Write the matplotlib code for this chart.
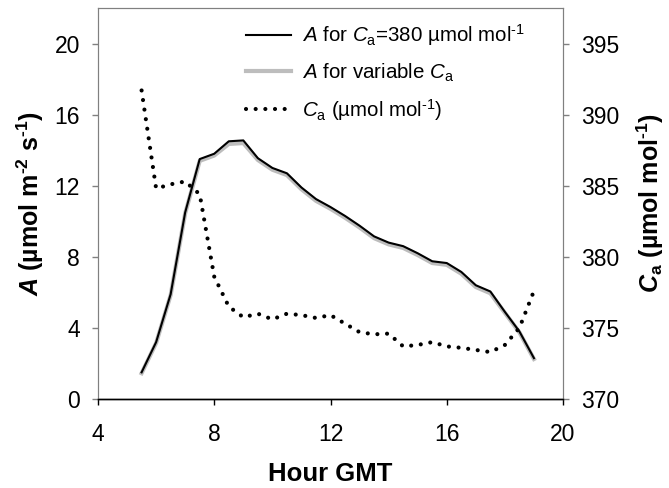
import matplotlib.pyplot as plt

plt.rcParams['font.family'] = ['Liberation Sans', 'DejaVu Sans']
plt.rcParams['mathtext.fontset'] = 'custom'
plt.rcParams['mathtext.rm'] = 'Liberation Sans'
plt.rcParams['mathtext.it'] = 'Liberation Sans:italic'
plt.rcParams['mathtext.bf'] = 'Liberation Sans:bold'
plt.rcParams['mathtext.bfit'] = 'Liberation Sans:bold:italic'

# hour of day (GMT)
hours = [5.5, 6.0, 6.5, 7.0, 7.5, 8.0, 8.5, 9.0, 9.5, 10.0, 10.5, 11.0, 11.5, 12.0,
         12.5, 13.0, 13.5, 14.0, 14.5, 15.0, 15.5, 16.0, 16.5, 17.0, 17.5, 18.0, 18.5, 19.0]

# assimilation at fixed Ca = 380
a_fixed = [1.5, 3.2, 5.9, 10.5, 13.5, 13.8, 14.5, 14.55, 13.55, 13.0, 12.7, 11.9, 11.25, 10.8,
           10.3, 9.75, 9.15, 8.8, 8.6, 8.2, 7.75, 7.65, 7.15, 6.4, 6.05, 4.9, 3.8, 2.3]

# assimilation at variable Ca
a_var = [1.45, 3.15, 5.85, 10.45, 13.4, 13.7, 14.35, 14.4, 13.45, 12.9, 12.6, 11.8, 11.15, 10.7,
         10.2, 9.65, 9.05, 8.7, 8.5, 8.1, 7.65, 7.55, 7.05, 6.3, 5.95, 4.85, 3.75, 2.25]

# ambient CO2 (umol mol-1)
ca = [391.7, 384.8, 385.1, 385.3, 384.4, 378.6, 376.5, 375.75, 376.0, 375.6, 376.0, 375.9, 375.7, 375.9,
      375.3, 374.7, 374.55, 374.6, 373.7, 373.8, 374.0, 373.7, 373.6, 373.45, 373.3, 373.8, 375.0, 377.6]

fig = plt.figure(figsize=(6.69, 4.88), dpi=100)
ax1 = fig.add_axes([98 / 669, 1 - 399 / 488, (563 - 98) / 669, (399 - 8) / 488])
ax2 = ax1.twinx()

l_var, = ax1.plot(hours, a_var, color='#bdbdbd', lw=3.0, zorder=2,
                  label=r'$\mathit{A}$ for variable $\mathit{C}_\mathrm{a}$')
l_fix, = ax1.plot(hours, a_fixed, color='black', lw=1.5, zorder=3,
                  label=r'$\mathit{A}$ for $\mathit{C}_\mathrm{a}$=380 µmol mol$^{‐1}$')
l_ca, = ax2.plot(hours, ca, color='black', lw=3.0, linestyle=(0, (0.001, 2.32)),
                 dash_capstyle='round', label=r'$\mathit{C}_\mathrm{a}$ (µmol mol$^{‐1}$)')

ax1.set_xlim(4, 20)
ax1.set_ylim(0, 22)
ax2.set_ylim(370, 397.5)
ax1.set_xticks([4, 8, 12, 16, 20])
ax1.set_yticks([0, 4, 8, 12, 16, 20])
ax2.set_yticks([370, 375, 380, 385, 390, 395])

grey = '#808080'
for ax in (ax1, ax2):
    for s in ('left', 'right', 'top'):
        ax.spines[s].set_color(grey)
    ax.spines['bottom'].set_color('black')
    ax.spines['bottom'].set_linewidth(1.0)
ax1.tick_params(axis='x', direction='out', length=4, width=1, color='black',
                labelsize=16.5, pad=13)
ax1.tick_params(axis='y', direction='out', length=4, width=1, color=grey,
                labelsize=16.5, pad=9)
ax2.tick_params(axis='y', direction='out', length=4, width=1, color=grey,
                labelsize=16.5, pad=9)

ax1.set_xlabel('Hour GMT', fontsize=18.5, fontweight='bold', labelpad=12)
ax1.set_ylabel(r'$\mathbfit{A}$ (µmol m$^{\mathbf{‐2}}$ s$^{\mathbf{‐1}}$)',
               fontsize=18, fontweight='bold', labelpad=6)
ax2.set_ylabel(r'$\mathbfit{C}_\mathbf{a}$ (µmol mol$^{\mathbf{‐1}}$)',
               fontsize=18, fontweight='bold', labelpad=11)

ax2.legend(handles=[l_fix, l_var, l_ca], loc='upper left', frameon=False,
           bbox_to_anchor=(246 / 669, 1 - 22 / 488), bbox_transform=fig.transFigure,
           fontsize=14.8, handlelength=2.2, handletextpad=0.5, labelspacing=0.65,
           borderpad=0, borderaxespad=0)

plt.savefig('out.png', dpi=100)
